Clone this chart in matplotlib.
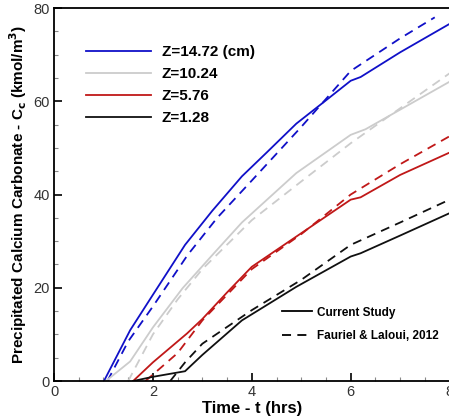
import matplotlib
matplotlib.use('Agg')
import matplotlib.pyplot as plt
from matplotlib.lines import Line2D
from matplotlib.ticker import MultipleLocator

plt.rcParams['font.family'] = ['Liberation Sans', 'DejaVu Sans']

# -- Current study (solid) -- #
t_z1472 = [1.01, 1.54, 2.0, 2.65, 3.2, 3.8, 4.3, 4.9, 5.5, 6.0, 6.2, 7.0, 8.0]
c_z1472 = [0.0, 10.9, 18.5, 29.2, 36.5, 43.9, 49.0, 55.2, 60.2, 64.4, 65.2, 70.5, 76.6]
t_z1024 = [1.05, 1.54, 2.0, 2.6, 3.2, 3.8, 4.9, 6.0, 6.3, 7.0, 8.0]
c_z1024 = [0.0, 4.2, 11.5, 19.9, 27.0, 34.0, 44.6, 52.8, 54.0, 58.2, 64.2]
t_z576 = [1.6, 2.0, 2.69, 3.0, 3.5, 4.0, 5.0, 6.0, 6.2, 7.0, 8.0]
c_z576 = [0.0, 4.0, 10.2, 13.3, 19.0, 24.5, 31.7, 38.9, 39.4, 44.2, 49.0]
t_z128 = [1.6, 2.0, 2.65, 3.0, 3.8, 4.9, 6.0, 6.2, 7.0, 8.0]
c_z128 = [0.0, 0.9, 2.1, 5.6, 13.0, 20.2, 26.7, 27.4, 31.2, 36.0]

# -- Fauriel & Laloui, 2012 (dashed) -- #
tf_z1472 = [1.08, 1.5, 2.0, 2.7, 3.3, 4.0, 5.0, 6.0, 7.0, 7.7]
cf_z1472 = [0.0, 8.5, 16.0, 27.0, 35.0, 43.0, 54.5, 66.5, 73.5, 78.0]
tf_z1024 = [1.5, 2.0, 2.5, 3.0, 4.0, 5.0, 6.0, 7.0, 8.0]
cf_z1024 = [0.0, 10.0, 17.5, 24.0, 34.5, 42.8, 51.0, 58.5, 66.0]
tf_z576 = [1.85, 2.5, 3.0, 4.0, 5.0, 6.0, 7.0, 8.0]
cf_z576 = [0.0, 6.0, 13.0, 24.0, 31.5, 40.0, 46.5, 52.5]
tf_z128 = [2.35, 2.65, 3.0, 4.0, 5.0, 6.0, 7.0, 8.0]
cf_z128 = [0.0, 4.0, 8.0, 15.2, 21.7, 29.2, 34.0, 38.9]

labels = ['Z=14.72 (cm)', 'Z=10.24', 'Z=5.76', 'Z=1.28']
colors = ['#1010c8', '#cccccc', '#c01818', '#101010']

solid = [(t_z1472, c_z1472), (t_z1024, c_z1024), (t_z576, c_z576), (t_z128, c_z128)]
dashed = [(tf_z1472, cf_z1472), (tf_z1024, cf_z1024), (tf_z576, cf_z576), (tf_z128, cf_z128)]

fig = plt.figure(figsize=(4.49, 4.16), dpi=100)
ax = fig.add_axes([0.1203, 0.0841, 0.881, 0.8966])

handles = []
for (t, c), (tf, cf), col, lab in zip(solid, dashed, colors, labels):
    h, = ax.plot(t, c, color=col, lw=1.3, label=lab)
    ax.plot(tf, cf, color=col, lw=1.3, ls=(0, (5, 3.5)))
    handles.append(h)

ax.set_xlim(0, 8)
ax.set_ylim(0, 80)
ax.xaxis.set_major_locator(MultipleLocator(2))
ax.xaxis.set_minor_locator(MultipleLocator(0.5))
ax.yaxis.set_major_locator(MultipleLocator(20))
ax.yaxis.set_minor_locator(MultipleLocator(5))
ax.tick_params(which='major', direction='in', length=6, width=1.2, labelsize=10.5,
               labelcolor='#333333', pad=3)
ax.tick_params(which='minor', direction='in', length=3, width=0.8, color='#888888')
for side in ['left', 'bottom', 'top', 'right']:
    ax.spines[side].set_linewidth(1.3)

ax.set_xlabel('Time - t (hrs)', fontsize=12, fontweight='bold', labelpad=1)
ax.set_ylabel(r'Precipitated Calcium Carbonate - C$_\mathbf{c}$ (kmol/m$^\mathbf{3}$)',
              fontsize=11, fontweight='bold', labelpad=3)

leg1 = ax.legend(handles=handles, loc='upper left', bbox_to_anchor=(0.045, 0.937),
                 frameon=False, handlelength=4.3, handletextpad=0.7, labelspacing=0.52,
                 prop={'weight': 'bold', 'size': 11})
ax.add_artist(leg1)

style_handles = [Line2D([], [], color='black', lw=1.3),
                 Line2D([], [], color='black', lw=1.3, ls=(0, (5, 3.5)))]
ax.legend(handles=style_handles, labels=['Current Study', 'Fauriel & Laloui, 2012'],
          loc='lower right', bbox_to_anchor=(1.0, 0.075), frameon=False,
          handlelength=2.5, handletextpad=0.45, labelspacing=1.0,
          prop={'weight': 'bold', 'size': 8.5})

fig.savefig('out.png', dpi=100)
